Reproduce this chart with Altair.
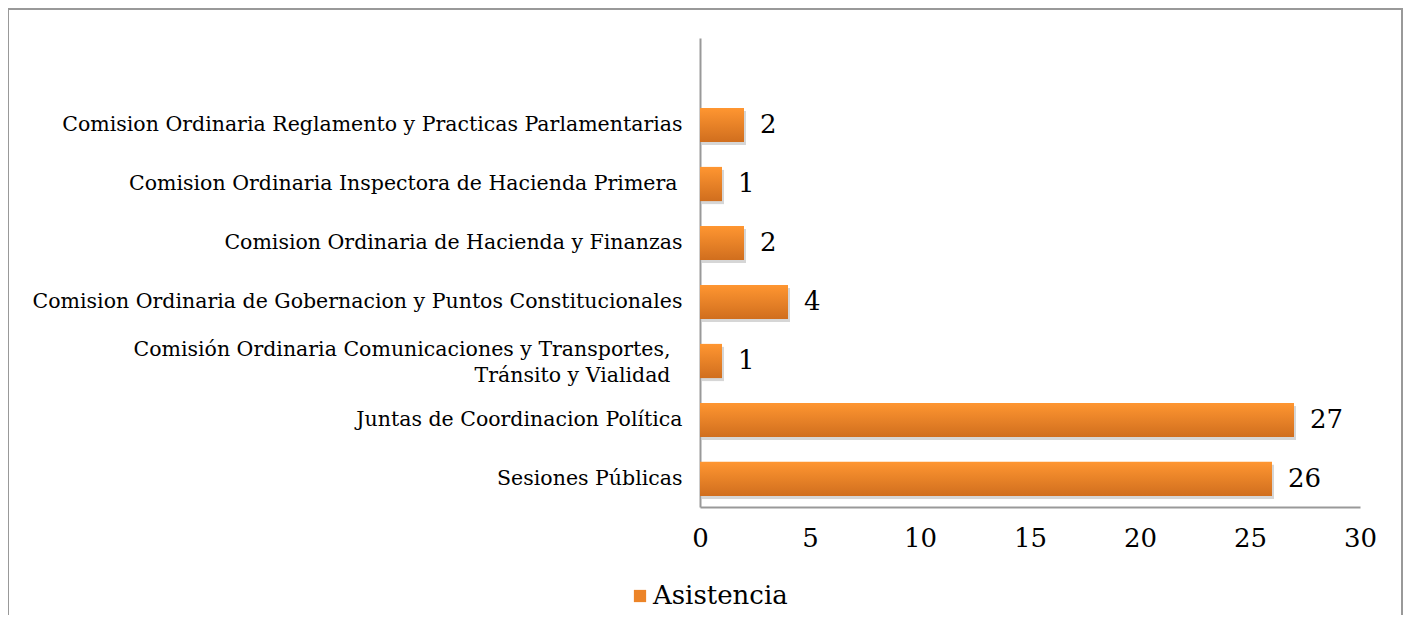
import altair as alt
import pandas as pd

categories = [
    "Comision Ordinaria Reglamento y Practicas Parlamentarias",
    "Comision Ordinaria Inspectora de Hacienda Primera ",
    "Comision Ordinaria de Hacienda y Finanzas",
    "Comision Ordinaria de Gobernacion y Puntos Constitucionales",
    "Comisión Ordinaria Comunicaciones y Transportes, |Tránsito y Vialidad ",
    "Juntas de Coordinacion Política",
    "Sesiones Públicas",
]
values = [2, 1, 2, 4, 1, 27, 26]
series_name = "Asistencia"
x_ticks = [0, 5, 10, 15, 20, 25, 30]

df = pd.DataFrame({"categoria": categories, "asistencia": values, "serie": series_name})
domain = [" "] + categories

FONT = "DejaVu Serif"

y = alt.Y(
    "categoria:N",
    sort=domain,
    scale=alt.Scale(domain=domain, paddingInner=0.42, paddingOuter=0.185),
    axis=alt.Axis(
        title=None, ticks=False, labelFontSize=20.5,
        labelPadding={"condition": [
            {"test": "indexof(datum.value, '|') >= 0", "value": 30},
            {"test": "indexof(datum.value, 'Inspectora') >= 0", "value": 23},
        ], "value": 18},
        labelOffset={"condition": {"test": "indexof(datum.value, '|') >= 0", "value": -11},
                     "value": 0},
        labelExpr="split(datum.label, '|')", labelLineHeight=26, labelLimit=900,
        domainColor="#999999", domainWidth=2, labelColor="black", labelFont=FONT,
    ),
)
x = alt.X(
    "asistencia:Q",
    scale=alt.Scale(domain=[0, 30], nice=False),
    axis=alt.Axis(
        title=None, values=x_ticks, ticks=False, grid=False, labelFontSize=26,
        labelPadding=18, labelFlush=False, domainColor="#999999", domainWidth=2,
        labelColor="black", labelFont=FONT,
    ),
)

grad = alt.Gradient(
    gradient="linear",
    stops=[alt.GradientStop(color="#FF9631", offset=0),
           alt.GradientStop(color="#D06E1E", offset=1)],
    x1=0, x2=0, y1=0, y2=1,
)

frame = alt.Chart(alt.Data(values=[{"f": 1}])).mark_rect(
    fillOpacity=0, stroke="#999999", strokeWidth=2
).encode(x=alt.value(-692), x2=alt.value(702), y=alt.value(-29), y2=alt.value(640))

shadow = alt.Chart(df).mark_bar(color="#777777", opacity=0.3, xOffset=2, yOffset=3).encode(x=x, y=y)
bars = alt.Chart(df).mark_bar(color=grad).encode(x=x, y=y)
text = alt.Chart(df).mark_text(
    align="left", baseline="middle", dx=16, fontSize=26, font=FONT, color="black"
).encode(x=x, y=y, text="asistencia:Q")
legend_layer = alt.Chart(df).mark_square(opacity=0).encode(
    x=x, y=y,
    color=alt.Color(
        "serie:N", scale=alt.Scale(range=["#EC8428"]),
        legend=alt.Legend(
            title=None, orient="none", legendX=-73, legendY=545, symbolType="square",
            symbolSize=150, symbolOpacity=1, labelFontSize=26, labelFont=FONT,
            labelColor="black", symbolStrokeWidth=0, labelOffset=0,
        ),
    ),
)

chart = alt.layer(frame, shadow, bars, text, legend_layer).properties(
    width=660, height=469,
    padding={"left": 692, "top": 30, "right": 43, "bottom": 108},
    autosize=alt.AutoSizeParams(type="none"),
).configure_view(strokeWidth=0)

chart.save("out.html", embed_options={"renderer": "svg", "actions": False})
